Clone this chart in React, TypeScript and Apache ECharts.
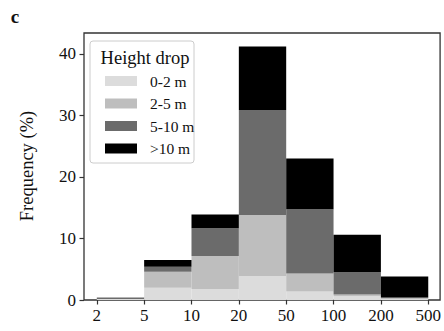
import React, { useEffect, useRef } from "react";
import * as echarts from "echarts";

const binLabels = ["2", "5", "10", "20", "50", "100", "200", "500"];
const seriesNames = ["0-2 m", "2-5 m", "5-10 m", ">10 m"];
const seriesColors = ["#dcdcdc", "#bebebe", "#6b6b6b", "#000000"];
// values per bin: 2-5, 5-10, 10-20, 20-50, 50-100, 100-200, 200-500
const drop0to2 = [0.15, 2.0, 1.8, 3.9, 1.4, 0.6, 0.2];
const drop2to5 = [0.0, 2.6, 5.35, 9.9, 2.9, 0.3, 0.1];
const drop5to10 = [0.25, 0.8, 4.5, 17.1, 10.45, 3.6, 0.1];
const dropOver10 = [0.0, 1.1, 2.25, 10.3, 8.25, 6.1, 3.4];
const yTicks = [0, 10, 20, 30, 40];

const FONT = "'Liberation Serif', 'Times New Roman', serif";

export default function App() {
  const ref = useRef<HTMLDivElement>(null);
  useEffect(() => {
    if (!ref.current) return;
    const chart = echarts.init(ref.current, null, { renderer: "svg" });
    const all = [drop0to2, drop2to5, drop5to10, dropOver10];
    const base = drop0to2.map(() => 0);
    const series = all.map((arr, si) => {
      const data = arr.map((v, i) => {
        const y0 = base[i];
        const y1 = y0 + v;
        base[i] = y1;
        return [i, y0, y1];
      });
      return {
        type: "custom",
        name: seriesNames[si],
        itemStyle: { color: seriesColors[si] },
        encode: { x: [0], y: [1, 2] },
        data,
        renderItem: (params: any, api: any) => {
          const x = api.value(0);
          const p0 = api.coord([x, api.value(1)]);
          const p1 = api.coord([x + 1, api.value(2)]);
          return {
            type: "rect",
            shape: { x: p0[0], y: p1[1], width: p1[0] - p0[0], height: p0[1] - p1[1] },
            style: { fill: seriesColors[si] },
          };
        },
      };
    });
    chart.setOption({
      animation: false,
      grid: {
        left: 84,
        top: 33,
        right: 2,
        bottom: 31,
        show: true,
        borderColor: "#333",
        borderWidth: 1.3,
        backgroundColor: "transparent",
      },
      xAxis: {
        type: "value",
        min: -0.27,
        max: 7.25,
        splitLine: { show: false },
        axisLine: { show: false },
        axisTick: {
          show: true,
          length: 4.5,
          lineStyle: { color: "#333", width: 1.2 },
          customValues: binLabels.map((_, i) => i),
        },
        axisLabel: {
          customValues: binLabels.map((_, i) => i),
          formatter: (v: number) => binLabels[Math.round(v)] ?? "",
          fontFamily: FONT,
          fontSize: 17,
          color: "#111",
          margin: 7,
        },
      },
      yAxis: {
        type: "value",
        min: 0,
        max: 43.4,
        interval: 10,
        splitLine: { show: false },
        axisLine: { show: false, onZero: false },
        axisTick: { show: true, length: 4.5, lineStyle: { color: "#333", width: 1.2 }, customValues: yTicks },
        axisLabel: {
          customValues: yTicks,
          fontFamily: FONT,
          fontSize: 17,
          color: "#111",
          margin: 8,
        },
      },
      legend: {
        orient: "vertical",
        left: 100,
        top: 68,
        itemWidth: 32,
        itemHeight: 10,
        itemGap: 6.5,
        icon: "rect",
        data: seriesNames,
        textStyle: { fontFamily: FONT, fontSize: 15.5, color: "#111", lineHeight: 16, padding: [0, 0, 0, 8] },
        z: 6,
      },
      graphic: [
        {
          type: "rect",
          z: 5,
          shape: { x: 90, y: 41, width: 104, height: 122, r: 3 },
          style: { fill: "rgba(255,255,255,0.85)", stroke: "#cccccc", lineWidth: 1 },
        },
        {
          type: "text",
          z: 7,
          x: 145,
          y: 58,
          style: {
            text: "Height drop",
            fontFamily: FONT,
            fontSize: 18.5,
            fill: "#111",
            align: "center",
            verticalAlign: "middle",
          },
        },
        {
          type: "text",
          x: 27,
          y: 166,
          rotation: Math.PI / 2,
          style: {
            text: "Frequency (%)",
            fontFamily: FONT,
            fontSize: 18.5,
            fill: "#111",
            align: "center",
            verticalAlign: "middle",
          },
        },
        {
          type: "text",
          x: 15,
          y: 16,
          style: {
            text: "c",
            fontFamily: FONT,
            fontSize: 19,
            fontWeight: "bold",
            fill: "#111",
            align: "center",
            verticalAlign: "middle",
          },
        },
      ],
      series,
    });
    return () => chart.dispose();
  }, []);
  return <div ref={ref} style={{ width: 444, height: 331, position: "absolute", left: 0, top: 0 }} />;
}
